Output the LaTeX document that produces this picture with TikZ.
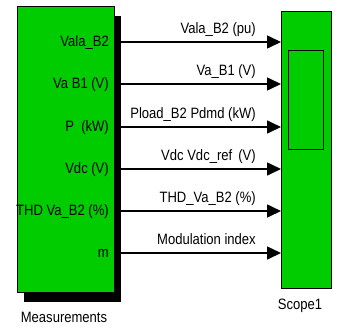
\documentclass[tikz,border=0pt]{standalone}
\usepackage{fontspec}
\setmainfont{Liberation Sans}[FakeStretch=0.87]
\usetikzlibrary{arrows.meta,positioning,shadows}
\definecolor{simgreen}{RGB}{0,204,0}

\begin{document}
\begin{tikzpicture}[x=1pt,y=-1pt,
every node/.style={font=\fontsize{15}{17}\selectfont,inner sep=0pt},
blockbox/.style={draw,line width=1.3pt,fill=simgreen},
sig/.style={line width=1.6pt,-{Triangle[length=14pt,width=13pt]}},
portlbl/.style={anchor=base east},
siglbl/.style={anchor=base east}]
\useasboundingbox (0,0) rectangle (337,327);
% measurement block with its shadow
\node[blockbox,anchor=north west,minimum width=97pt,minimum height=286pt,
drop shadow={shadow xshift=6pt,shadow yshift=-9pt,opacity=1,fill=black}] (meas) at (17,6) {};
\node[anchor=base] (measname) at (64,322) {Measurements};
% scope
\node[blockbox,anchor=north west,minimum width=50pt,minimum height=277pt] (scope) at (281,11) {};
\node[draw,line width=1.2pt,anchor=north west,minimum width=35pt,minimum height=99pt] (screen) at (288,50) {};
\node[anchor=base] (scopename) at (300,309) {Scope1};
% ports
\coordinate (o1) at (114,42);  \coordinate (i1) at (281,42);
\coordinate (o2) at (114,84);  \coordinate (i2) at (281,84);
\coordinate (o3) at (114,127); \coordinate (i3) at (281,127);
\coordinate (o4) at (114,169); \coordinate (i4) at (281,169);
\coordinate (o5) at (114,211); \coordinate (i5) at (281,211);
\coordinate (o6) at (114,253); \coordinate (i6) at (281,253);
\node[portlbl] (p1) at (109,46) {Vala\_B2};
\node[portlbl] (p2) at (109,88) {Va B1 (V)};
\node[portlbl] (p3) at (109,131) {P \ (kW)};
\node[portlbl] (p4) at (109,173) {Vdc (V)};
\node[portlbl] (p5) at (109,215) {THD Va\_B2 (\%)};
\node[portlbl] (p6) at (109,257) {m};
% signals
\draw[sig] (o1)--(i1);
\draw[sig] (o2)--(i2);
\draw[sig] (o3)--(i3);
\draw[sig] (o4)--(i4);
\draw[sig] (o5)--(i5);
\draw[sig] (o6)--(i6);
\node[siglbl] (s1) at (256,33) {Vala\_B2 (pu)};
\node[siglbl] (s2) at (256,75) {Va\_B1 (V)};
\node[siglbl] (s3) at (256,118) {Pload\_B2 Pdmd (kW)};
\node[siglbl] (s4) at (256,160) {Vdc Vdc\_ref \,(V)};
\node[siglbl] (s5) at (256,202) {THD\_Va\_B2 (\%)};
\node[siglbl] (s6) at (256,244) {Modulation index};
\end{tikzpicture}
\end{document}
